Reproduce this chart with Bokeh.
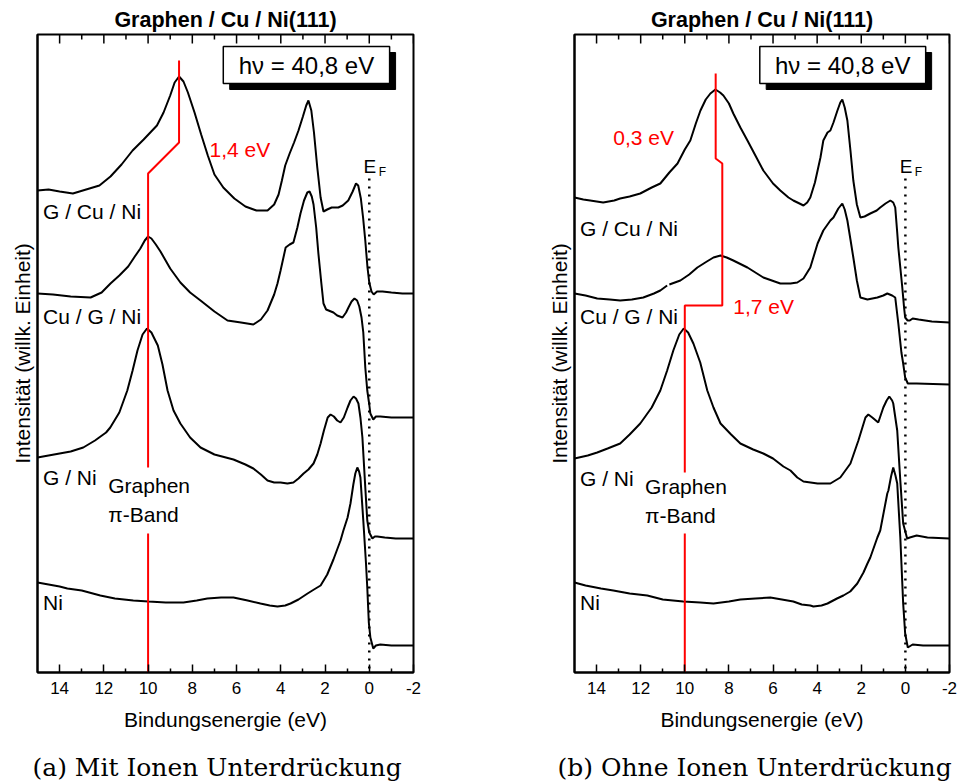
import math
from bokeh.plotting import figure
from bokeh.models import Range1d, FixedTicker, Label, ColumnDataSource, Title
from bokeh.layouts import row, column
from bokeh.embed import file_html
from bokeh.resources import INLINE

NAN = float("nan")

# ---------------- data (binding energy in eV, intensity in arb. units incl. offsets) -------------
major_ticks = [14, 12, 10, 8, 6, 4, 2, 0, -2]
minor_ticks = [13, 11, 9, 7, 5, 3, 1, -1]

# Panel (a): mit Ionen-Unterdrueckung
a_gcuni_e = [15.0, 14.5, 14.0, 13.4, 12.8, 12.2, 11.7, 11.2, 10.7, 10.2, 9.9, 9.6, 9.3, 9.0, 8.8, 8.6, 8.4, 8.2,
             7.9, 7.6, 7.3, 7.0, 6.6, 6.1, 5.6, 5.1, 4.6, 4.3, 4.1, 3.95, 3.8, 3.6, 3.4, 3.2, 3.0, 2.85, 2.75,
             2.62, 2.5, 2.35, 2.2, 2.07, 1.9, 1.7, 1.4, 1.2, 0.95, 0.75, 0.6, 0.5, 0.38, 0.28, 0.18, 0.08, 0.0,
             -0.1, -0.2, -0.35, -0.6, -1.0, -1.5, -2.0]
a_gcuni_i = [482, 483, 481, 479, 483, 487, 496, 508, 522, 533, 540, 547, 560, 577, 590, 596, 591, 580,
             560, 538, 517, 498, 485, 474, 466, 462, 462, 468, 478, 492, 507, 519, 530, 542, 556, 567, 572,
             562, 540, 505, 475, 461, 463, 465, 465, 467, 472, 481, 489, 487, 474, 455, 432, 405, 390,
             381, 378, 381, 381, 380, 379, 379]

a_cugni_e = [15.0, 14.3, 13.5, 12.6, 12.1, 11.7, 11.3, 10.9, 10.6, 10.35, 10.15, 10.0, 9.85, 9.65, 9.44, 9.0,
             8.54, 8.1, 7.63, 7.0, 6.41, 5.8, 5.24, 4.9, 4.6, 4.3, 4.15, 4.01, 3.78, 3.6, 3.43, 3.25, 3.11,
             2.95, 2.8, 2.7, 2.6, 2.52, 2.4, 2.3, 2.17, 2.07, 1.95, 1.84, 1.62, 1.45, 1.21, 1.05, 0.94, 0.8,
             0.67, 0.55, 0.45, 0.35, 0.27, 0.18, 0.09, 0.0, -0.05, -0.18, -0.3, -0.5, -1.0, -2.0]
a_cugni_i = [379, 378, 376, 375, 380, 389, 397, 406, 416, 424, 432, 436, 434, 428, 421, 404,
             390, 380, 372, 361, 352, 350, 348, 353, 362, 378, 389, 402, 425, 428, 430, 445, 459,
             472, 480, 481, 476, 468, 445, 419, 390, 369, 363, 362, 360, 357, 355, 360, 365, 371,
             374, 372, 366, 355, 340, 305, 282, 268, 259, 253, 256, 256, 255, 255]

a_gni_e = [15.0, 14.5, 14.0, 13.5, 12.93, 12.4, 11.9, 11.71, 11.3, 10.94, 10.7, 10.48, 10.25, 10.05, 9.85,
           9.56, 9.35, 9.12, 8.85, 8.54, 8.1, 7.63, 7.0, 6.14, 5.6, 5.24, 4.9, 4.6, 4.3, 4.01, 3.7, 3.43,
           3.2, 2.97, 2.75, 2.52, 2.35, 2.2, 2.05, 1.88, 1.75, 1.6, 1.45, 1.3, 1.15, 0.98, 0.85, 0.71, 0.6,
           0.49, 0.4, 0.31, 0.18, 0.09, 0.0, -0.14, -0.25, -0.36, -0.7, -1.2, -2.0]
a_gni_i = [215, 217, 219, 221, 225, 232, 240, 245, 260, 282, 302, 322, 338, 344, 340,
           327, 308, 282, 262, 249, 235, 225, 218, 213, 208, 204, 198, 192, 190, 190, 189, 190,
           194, 199, 203, 209, 218, 229, 242, 255, 258, 256, 252, 250, 255, 265, 272, 276, 274,
           269, 255, 235, 185, 152, 140, 134, 136, 136, 135, 134, 134]

a_ni_e = [15.0, 14.5, 14.0, 13.65, 13.0, 12.16, 11.5, 10.67, 9.98, 9.2, 8.4, 7.8, 7.32, 6.7, 6.14, 5.5, 4.92,
          4.5, 4.15, 3.8, 3.56, 3.2, 2.79, 2.5, 2.2, 1.9, 1.62, 1.3, 1.17, 0.98, 0.85, 0.72, 0.63, 0.54,
          0.46, 0.4, 0.27, 0.15, 0.09, 0.02, -0.05, -0.18, -0.3, -0.5, -1.0, -2.0]
a_ni_i = [90, 88, 86, 84, 82, 77, 74, 72, 71, 70, 70, 72, 74, 75, 75, 72, 69,
          67, 66, 67, 69, 73, 79, 83, 87, 98, 113, 132, 142, 155, 169, 188, 199, 205,
          201, 195, 152, 110, 85, 50, 35, 24, 27, 28, 27, 27]

# Panel (b): ohne Ionen-Unterdrueckung
b_gcuni_e = [15.0, 14.6, 14.29, 13.7, 13.2, 12.93, 12.5, 12.02, 11.5, 11.11, 10.7, 10.33, 10.0, 9.75, 9.5,
             9.29, 9.05, 8.84, 8.61, 8.4, 8.25, 8.0, 7.8, 7.48, 7.16, 6.8, 6.44, 6.0, 5.67, 5.3, 5.08, 4.8,
             4.62, 4.45, 4.31, 4.1, 3.98, 3.85, 3.72, 3.53, 3.4, 3.26, 3.08, 2.95, 2.86, 2.75, 2.63, 2.49,
             2.36, 2.2, 2.04, 1.85, 1.59, 1.3, 1.14, 0.9, 0.68, 0.55, 0.46, 0.37, 0.32, 0.23, 0.14, 0.06,
             0.01, -0.1, -0.2, -0.33, -0.6, -1.2, -2.0]
b_gcuni_i = [475, 473, 472, 470, 472, 474, 476, 479, 485, 489, 500, 509, 523, 532, 549,
             562, 573, 579, 583, 580, 577, 569, 559, 545, 532, 517, 502, 489, 482, 475, 472, 469,
             467, 470, 475, 490, 502, 515, 532, 540, 542, 550, 562, 570, 573, 565, 552, 522,
             492, 468, 455, 456, 459, 462, 465, 469, 472, 470, 465, 440, 425, 405, 385, 365,
             355, 352, 352, 354, 353, 351, 350]

b_cugni_e = [15.0, 14.5, 13.97, 13.4, 12.93, 12.4, 11.88, 11.4, 11.11, 10.8, NAN, 10.7, 10.2, 9.8, 9.43,
             9.0, 8.7, 8.38, 8.1, 7.8, 7.16, 6.44, 5.67, 5.21, 4.9, 4.62, 4.31, 3.98, 3.72, 3.4, 3.26,
             3.04, 2.86, 2.75, 2.63, 2.49, 2.36, 2.2, 2.04, 1.72, 1.27, 1.0, 0.82, 0.6, 0.46, 0.32, 0.18,
             0.1, 0.01, -0.11, -0.51, -2.0]
b_cugni_i = [379, 377, 374, 373, 372, 373, 375, 379, 382, 387, NAN, 388, 392, 398, 405,
             411, 415, 417, 415, 412, 405, 395, 389, 389, 390, 394, 405, 429, 442, 452, 455,
             464, 469, 463, 452, 433, 415, 392, 375, 373, 375, 377, 379, 377, 375, 349, 320,
             309, 295, 289, 289, 288]

b_gni_e = [15.0, 14.4, 13.97, 13.5, 12.93, 12.5, 12.02, 11.5, 11.11, 10.8, 10.52, 10.25, 10.05, 9.85, 9.61,
           9.3, 8.98, 8.7, 8.38, 7.9, 7.48, 6.9, 6.44, 6.0, 5.53, 5.21, 4.9, 4.62, 4.3, 3.98, 3.4, 2.95,
           2.49, 2.13, 1.81, 1.68, 1.5, 1.23, 1.0, 0.85, 0.73, 0.6, 0.55, 0.37, 0.23, 0.1, -0.08, -0.2,
           -0.51, -1.0, -2.0]
b_gni_i = [214, 217, 220, 224, 229, 238, 249, 265, 282, 302, 322, 338, 344, 340, 329,
           310, 282, 265, 249, 238, 229, 223, 219, 214, 206, 202, 195, 191, 190, 189, 189, 195,
           209, 232, 255, 258, 255, 250, 265, 272, 276, 272, 269, 242, 192, 149, 134, 135,
           137, 135, 134]

b_ni_e = [15.0, 14.5, 13.8, 13.24, 12.5, 11.7, 11.0, 10.07, 9.3, 8.7, 8.0, 7.48, 6.8, 6.12, 5.6, 5.08, 4.7,
          4.31, 4.17, 3.8, 3.53, 3.1, 2.81, 2.5, 2.18, 1.9, 1.72, 1.59, 1.27, 1.14, 0.82, 0.77, 0.65, 0.55,
          0.45, 0.37, 0.23, 0.1, 0.01, -0.11, -0.33, -0.8, -2.0]
b_ni_i = [90, 87, 84, 82, 79, 77, 73, 71, 70, 69, 71, 73, 74, 75, 73, 71, 68,
          67, 66, 67, 69, 74, 77, 81, 89, 100, 109, 115, 135, 142, 179, 182, 196, 205,
          197, 189, 135, 69, 39, 25, 28, 27, 27]

curve_labels = ["G / Cu / Ni", "Cu / G / Ni", "G / Ni", "Ni"]
captions = ["(a) Mit Ionen Unterdrückung", "(b) Ohne Ionen Unterdrückung"]

# red guide lines (pi-band position)
a_band_e = [8.6, 8.6, 10.0, 10.0]
a_band_i = [612, 530, 499, 205]
b_band_e = [8.6, 8.6, 8.3, 8.3, 10.0, 10.0]
b_band_i = [599, 514, 509, 367, 367, 200]
band_low_e = [10.0, 10.0]
band_low_i = [139, 0]

SANS = "Liberation Sans"
SERIF = "DejaVu Serif"
Y_TOP = 638
MAIN_H = 750
CAP_H = 33


def make_panel(width, bl, br, curves, band_e, band_i, label_y, shift_texts):
    p = figure(width=width, height=MAIN_H, x_range=Range1d(15, -2), y_range=Range1d(0, Y_TOP),
               output_backend="svg", toolbar_location=None,
               min_border_left=bl, min_border_right=br, min_border_top=34,
               min_border_bottom=MAIN_H - 672)
    p.grid.visible = False
    p.outline_line_color = "black"
    p.outline_line_width = 2
    p.background_fill_color = "white"
    p.border_fill_color = "white"

    p.title = Title(text="Graphen / Cu / Ni(111)", align="center", vertical_align="bottom",
                    text_font=SANS, text_font_size="21.5px", text_font_style="bold",
                    text_color="black", standoff=6)

    xa = p.xaxis[0]
    xa.ticker = FixedTicker(ticks=major_ticks, minor_ticks=minor_ticks)
    xa.major_label_overrides = {-2: "-2"}
    xa.major_tick_in = 8
    xa.major_tick_out = 0
    xa.minor_tick_in = 4
    xa.minor_tick_out = 0
    xa.major_tick_line_width = 1.5
    xa.minor_tick_line_width = 1.5
    xa.axis_line_width = 2
    xa.major_label_text_font = SANS
    xa.major_label_text_font_size = "17px"
    xa.major_label_text_color = "black"
    xa.major_label_standoff = 9
    xa.axis_label = "Bindungsenergie (eV)"
    xa.axis_label_text_font = SANS
    xa.axis_label_text_font_size = "21px"
    xa.axis_label_text_font_style = "normal"
    xa.axis_label_text_color = "black"
    xa.axis_label_standoff = 11

    ya = p.yaxis[0]
    ya.ticker = FixedTicker(ticks=[])
    ya.major_tick_in = 0
    ya.major_tick_out = 0
    ya.minor_tick_in = 0
    ya.minor_tick_out = 0
    ya.major_label_standoff = 0
    ya.axis_line_width = 2
    ya.axis_label = "Intensität (willk. Einheit)"
    ya.axis_label_text_font = SANS
    ya.axis_label_text_font_size = "21px"
    ya.axis_label_text_font_style = "normal"
    ya.axis_label_text_color = "black"
    ya.axis_label_standoff = 4

    # inward ticks along the top edge
    p.segment(x0=major_ticks, y0=[Y_TOP] * len(major_ticks), x1=major_ticks,
              y1=[Y_TOP - 9] * len(major_ticks), line_color="black", line_width=1.5)
    p.segment(x0=minor_ticks, y0=[Y_TOP] * len(minor_ticks), x1=minor_ticks,
              y1=[Y_TOP - 5] * len(minor_ticks), line_color="black", line_width=1.5)

    # spectra
    for e, i in curves:
        src = ColumnDataSource(dict(e=e, i=i))
        p.line("e", "i", source=src, line_color="black", line_width=2)

    # Fermi level
    p.line([0, 0], [494, 0], line_color="black", line_width=2.5, line_dash="2 6")

    # pi band guide
    p.line(band_e, band_i, line_color="#ff0000", line_width=2)
    p.line(band_low_e, band_low_i, line_color="#ff0000", line_width=2)

    # photon energy box with shadow
    p.quad(left=6.31, right=-1.19, top=620, bottom=583, fill_color="black", line_color="black")
    p.quad(left=6.6, right=-0.92, top=626, bottom=589, fill_color="white", line_color="black", line_width=1.5)
    p.add_layout(Label(x=2.84, y=607, text="hν = 40,8 eV", text_font=SANS, text_font_size="24px",
                       text_align="center", text_baseline="middle", text_color="black"))

    # curve names
    for t, y in zip(curve_labels, label_y):
        p.add_layout(Label(x=14.75, y=y, text=t, text_font=SANS, text_font_size="21px",
                           text_align="left", text_baseline="middle", text_color="black"))

    p.add_layout(Label(x=11.8, y=label_y[2] - 8, text="Graphen", text_font=SANS, text_font_size="21px",
                       text_align="left", text_baseline="middle", text_color="black"))
    p.add_layout(Label(x=11.8, y=label_y[2] - 37, text="π-Band", text_font=SANS, text_font_size="21px",
                       text_align="left", text_baseline="middle", text_color="black"))

    # E_F
    p.add_layout(Label(x=0.26, y=506, text="E", text_font=SANS, text_font_size="19px",
                       text_align="left", text_baseline="alphabetic", text_color="black"))
    p.add_layout(Label(x=-0.43, y=501, text="F", text_font=SANS, text_font_size="12px",
                       text_align="left", text_baseline="alphabetic", text_color="black"))

    for t, x, y in shift_texts:
        p.add_layout(Label(x=x, y=y, text=t, text_font=SANS, text_font_size="21px",
                           text_align="left", text_baseline="middle", text_color="#ff0000"))
    return p


def make_caption(width, text, x):
    c = figure(width=width, height=CAP_H, x_range=Range1d(0, width), y_range=Range1d(0, CAP_H),
               output_backend="svg", toolbar_location=None, x_axis_type=None, y_axis_type=None,
               min_border_left=0, min_border_right=0, min_border_top=0, min_border_bottom=0)
    c.grid.visible = False
    c.outline_line_color = None
    c.background_fill_color = "white"
    c.border_fill_color = "white"
    c.add_layout(Label(x=x, y=CAP_H / 2, text=text, text_font=SERIF, text_font_size="25px",
                       text_align="left", text_baseline="middle", text_color="black"))
    return c


pa = make_panel(478, 37, 65,
                [(a_gcuni_e, a_gcuni_i), (a_cugni_e, a_cugni_i), (a_gni_e, a_gni_i), (a_ni_e, a_ni_i)],
                a_band_e, a_band_i, [461, 356, 195, 70],
                [("1,4 eV", 7.22, 523)])
pb = make_panel(479, 96, 8,
                [(b_gcuni_e, b_gcuni_i), (b_cugni_e, b_cugni_i), (b_gni_e, b_gni_i), (b_ni_e, b_ni_i)],
                b_band_e, b_band_i, [444, 356, 194, 70],
                [("0,3 eV", 13.24, 535), ("1,7 eV", 7.8, 366)])
ca = make_caption(478, captions[0], 32)
cb = make_caption(479, captions[1], 79)

layout = column(row(pa, pb), row(ca, cb))
open("out.html", "w").write(file_html(layout, INLINE))
